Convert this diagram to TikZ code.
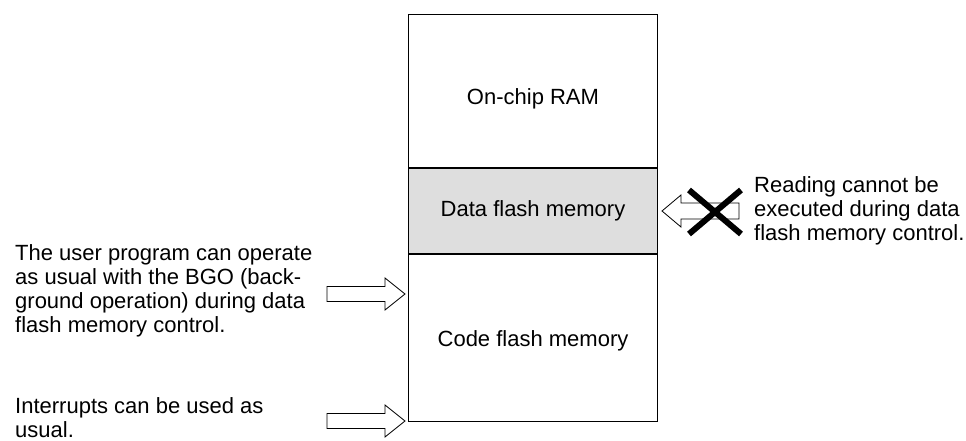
\documentclass[tikz,border=0pt]{standalone}
\usepackage{fontspec}
\setmainfont{Liberation Sans}
\usetikzlibrary{calc}

\tikzset{
    memblock/.style={draw=black, line width=1pt, minimum width=249pt, anchor=north west, inner sep=0pt},
    memtext/.style={font=\fontsize{22}{24}\selectfont},
    note/.style={font=\fontsize{22}{24}\selectfont, align=left, inner sep=0pt, anchor=north west},
    hollowarrow/.style={draw=black, fill=white, line width=0.8pt, line join=miter},
    crossbar/.style={draw=black, line width=6pt}
}

\begin{document}
\begin{tikzpicture}[x=1pt, y=-1pt]
    \useasboundingbox (0,0) rectangle (966,441);
    % Memory map
    \node[memblock, minimum height=153pt] (ram) at (408,14) {};
    \node[memblock, minimum height=85pt, fill=black!13] (dflash) at (ram.south west) {};
    \node[memblock, minimum height=167pt] (cflash) at (dflash.south west) {};
    \node[memtext] (ramtext)    at ($(ram.center)+(0,8)$)    {On-chip RAM};
    \node[memtext] (dflashtext) at (dflash.center)           {Data flash memory};
    \node[memtext] (cflashtext) at ($(cflash.center)+(0,3)$) {Code flash memory};
    % Arrow tips
    \coordinate (bgotip)  at ($(cflash.north west)+(-3,40)$);
    \coordinate (inttip)  at ($(cflash.south west)+(-3,-1)$);
    \coordinate (readtip) at ($(dflash.east)+(4,0)$);
    % Block arrows
    \draw[hollowarrow] (bgotip)  -- ++(-20,-16) -- ++(0,8.5) -- ++(-58,0) -- ++(0,15) -- ++(58,0) -- ++(0,8.5) -- cycle;
    \draw[hollowarrow] (inttip)  -- ++(-20,-16) -- ++(0,8.5) -- ++(-58,0) -- ++(0,15) -- ++(58,0) -- ++(0,8.5) -- cycle;
    \draw[hollowarrow] (readtip) -- ++(19,-16)  -- ++(0,8)   -- ++(58,0)  -- ++(0,16) -- ++(-58,0) -- ++(0,8) -- cycle;
    % Cross over the read arrow
    \coordinate (cross) at ($(readtip)+(53,1)$);
    \draw[crossbar] ($(cross)+(-26,-22)$) -- ($(cross)+(26,22)$);
    \draw[crossbar] ($(cross)+(26,-22)$)  -- ($(cross)+(-26,22)$);
    % Notes
    \node[note] (bgonote)  at (15,244)  {The user program can operate\\as usual with the BGO (back-\\ground operation) during data\\flash memory control.};
    \node[note] (intnote)  at (15,397)  {Interrupts can be used as\\usual.};
    \node[note] (readnote) at (754,176) {Reading cannot be\\executed during data\\flash memory control.};
\end{tikzpicture}
\end{document}
